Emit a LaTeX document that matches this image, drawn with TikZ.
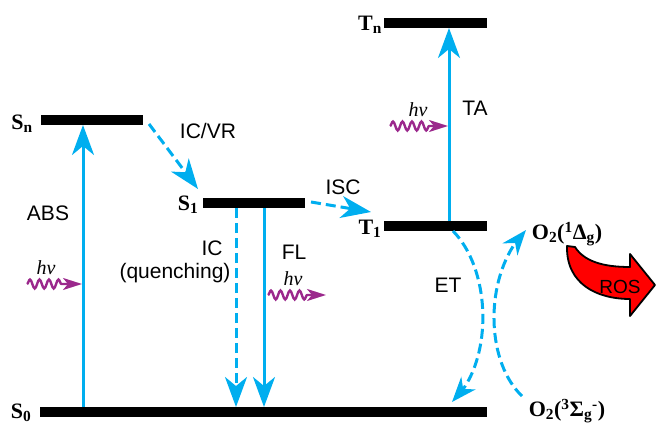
\documentclass[tikz,border=0pt]{standalone}
\usepackage{fontspec}
\setmainfont{Liberation Serif}
\setsansfont{Liberation Sans}
\usetikzlibrary{arrows.meta,bending,decorations.pathmorphing}
\definecolor{ablue}{RGB}{0,174,239}
\definecolor{hvpurple}{RGB}{155,40,140}
\definecolor{rosred}{RGB}{255,0,0}
\begin{document}
\begin{tikzpicture}[x=1pt,y=-1pt,
  level/.style={fill=black, draw=none, minimum height=10pt, inner sep=0pt, outer sep=0pt},
  statelbl/.style={font=\fontsize{22}{22}\selectfont\bfseries, inner sep=0pt},
  oxlbl/.style={font=\fontsize{22}{22}\selectfont\bfseries, inner sep=0pt},
  proc/.style={font=\sffamily\fontsize{21}{21}\selectfont, inner sep=0pt},
  tr/.style={draw=ablue, line width=3pt, -{Stealth[length=30pt,width=22pt,inset=9pt]}},
  dtr/.style={tr, dash pattern=on 10pt off 5pt},
  ctr/.style={draw=ablue, line width=3pt, dash pattern=on 10pt off 5pt, -{Stealth[length=25pt,width=19pt,inset=8pt,flex]}},
  photon/.style={draw=hvpurple, line width=2.4pt, decorate,
    decoration={snake, segment length=9.5pt, amplitude=4.5pt, post length=18pt},
    -{Stealth[length=19pt,width=12pt,inset=5pt]}},
  hv/.style={font=\fontsize{20}{20}\selectfont\itshape, inner sep=0pt},
  rosarrow/.style={fill=rosred, draw=black, line width=1.8pt, line join=round}]
\useasboundingbox (0,0) rectangle (656,425);

% energy levels
\node[level, minimum width=447pt] (S0) at (263.5,412) {};
\node[level, minimum width=102pt] (Sn) at (92,120) {};
\node[level, minimum width=102pt] (S1) at (254,203) {};
\node[level, minimum width=103pt] (T1) at (435.5,226) {};
\node[level, minimum width=103pt] (Tn) at (435.5,23) {};

% state labels
\node[statelbl] (lS0) at (21,413) {S\textsubscript{0}};
\node[statelbl] (lSn) at (22,124) {S\textsubscript{n}};
\node[statelbl] (lS1) at (188,205) {S\textsubscript{1}};
\node[statelbl] (lT1) at (370,229) {T\textsubscript{1}};
\node[statelbl] (lTn) at (370,25) {T\textsubscript{n}};
\node[oxlbl] (O2s) at (567,234) {O\textsubscript{2}(\textsuperscript{1}Δ\textsubscript{g})};
\node[oxlbl] (O2t) at (567,411) {O\textsubscript{2}(\textsuperscript{3}Σ\textsubscript{g}\textsuperscript{-})};

% x positions of vertical transitions
\coordinate (xabs) at (83,0);
\coordinate (xic) at (236,0);
\coordinate (xfl) at (264,0);
\coordinate (xta) at (449,0);
\coordinate (xet) at (453,0);

% transitions
\draw[tr] (S0.north -| xabs) -- (Sn.south -| xabs);
\draw[dtr] (S1.south -| xic) -- (S0.north -| xic);
\draw[tr] (S1.south -| xfl) -- (S0.north -| xfl);
\draw[tr] (T1.north -| xta) -- (Tn.south -| xta);
\coordinate (icvrA) at (149,124);
\coordinate (icvrB) at (198,189);
\draw[dtr] (icvrA) -- (icvrB);
\coordinate (iscA) at (311,202);
\coordinate (iscB) at (371,212);
\draw[dtr] (iscA) -- (iscB);
\coordinate (etB) at (452,402);
\draw[ctr] (T1.south -| xet) .. controls (493,272) and (493,365) .. (etB);
\coordinate (oxA) at (522,396);
\coordinate (oxB) at (526,230);
\draw[ctr] (oxA) .. controls (484,360) and (484,272) .. (oxB);

% process labels
\node[proc] (tABS) at (48,213) {ABS};
\node[proc] (tICVR) at (208,131) {IC/VR};
\node[proc] (tISC) at (343,187) {ISC};
\node[proc] (tIC) at (212,248) {IC};
\node[proc] (tQ) at (175,273) {(quenching)};
\node[proc] (tFL) at (294,252) {FL};
\node[proc] (tTA) at (475,108) {TA};
\node[proc] (tET) at (448,285) {ET};

% photons
\coordinate (phA1) at (27,284);
\coordinate (phA2) at (82,284);
\draw[photon] (phA1) -- (phA2);
\node[hv] (hvA) at (46,268) {hν};
\coordinate (phF1) at (268,295);
\coordinate (phF2) at (326,295);
\draw[photon] (phF1) -- (phF2);
\node[hv] (hvF) at (293,279) {hν};
\coordinate (phT1) at (390,126);
\coordinate (phT2) at (448,126);
\draw[photon] (phT1) -- (phT2);
\node[hv] (hvT) at (418,110) {hν};

% ROS arrow
\draw[rosarrow] (567,246) -- (575,247)
  .. controls (584,261) and (602,267) .. (630,267)
  -- (630,254) -- (655,285) -- (630,316) -- (630,299)
  .. controls (597,299) and (566,284) .. (567,246) -- cycle;
\node[font=\sffamily\fontsize{19}{19}\selectfont, inner sep=0pt] (ros) at (620,287) {ROS};
\end{tikzpicture}
\end{document}
